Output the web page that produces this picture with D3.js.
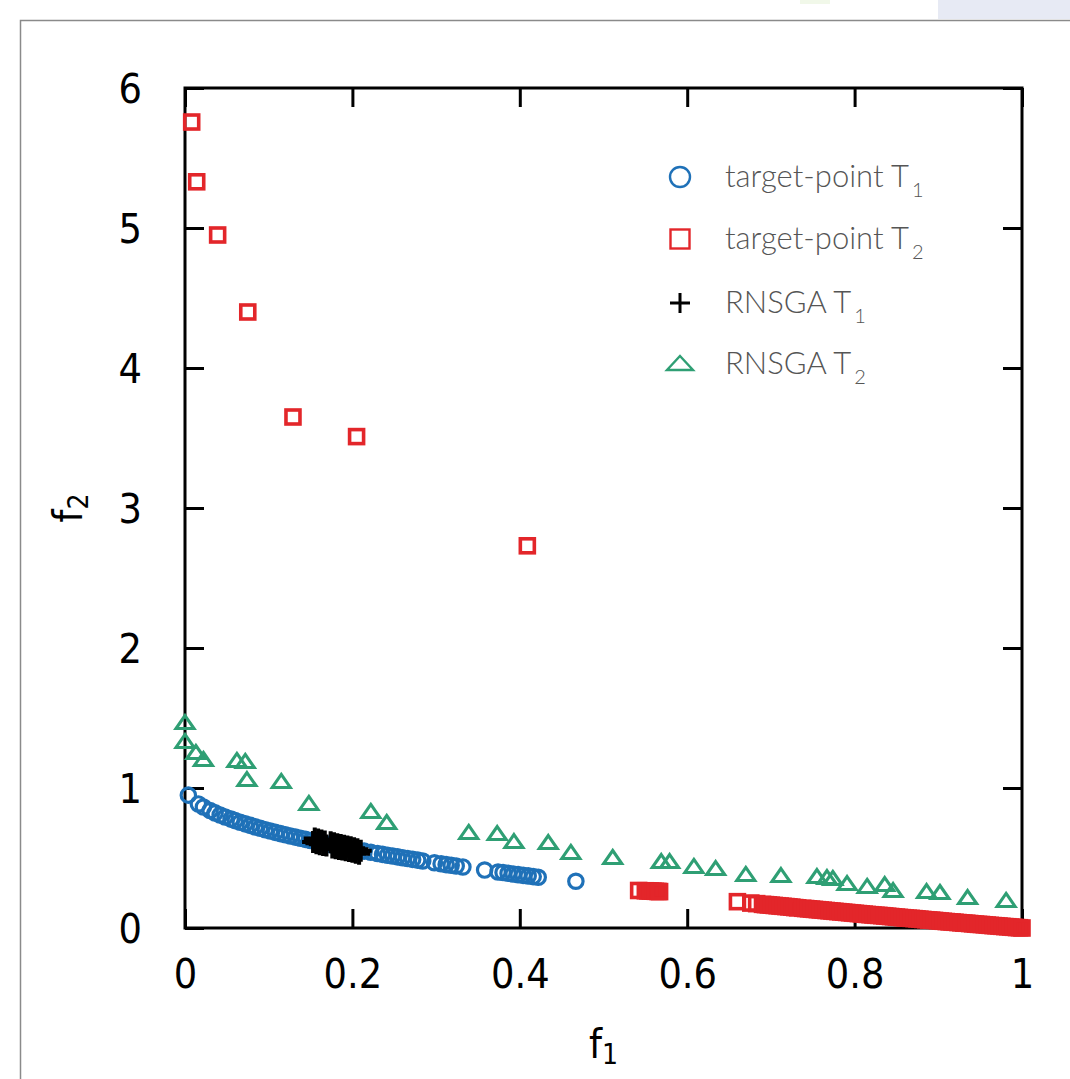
<!DOCTYPE html>
<html><head><meta charset="utf-8">
<script src="https://cdn.jsdelivr.net/npm/d3@7"></script>
<style>
html,body{margin:0;padding:0;background:#fff;}
svg{display:block;}
.legend-font{font-family:Lato,"Open Sans",sans-serif;font-weight:300;}
</style>
</head><body>
<svg id="chart" width="1070" height="1079"></svg>
<script>
// ---------------- data ----------------
const xTickValues = [0, 0.2, 0.4, 0.6, 0.8, 1];
const xTickLabels = ["0", "0.2", "0.4", "0.6", "0.8", "1"];
const yTickValues = [0, 1, 2, 3, 4, 5, 6];
const yTickLabels = ["0", "1", "2", "3", "4", "5", "6"];

const seriesNames = ["target-point T1", "target-point T2", "RNSGA T1", "RNSGA T2"];

// target-point T1 (blue circles)
const targetPointT1 = [
 [0.004,0.949],[0.016,0.886],[0.022,0.864],[0.030,0.839],[0.036,0.822],[0.042,0.807],[0.048,0.793],
 [0.055,0.778],[0.060,0.767],[0.066,0.755],[0.072,0.744],[0.078,0.733],[0.084,0.722],[0.090,0.712],
 [0.096,0.702],[0.102,0.693],[0.108,0.683],[0.114,0.674],[0.120,0.666],[0.126,0.657],[0.132,0.649],
 [0.138,0.641],[0.144,0.633],[0.150,0.625],[0.156,0.617],[0.162,0.610],[0.168,0.602],[0.175,0.594],
 [0.182,0.585],[0.190,0.576],[0.198,0.567],[0.206,0.558],[0.214,0.549],[0.222,0.541],[0.230,0.532],
 [0.236,0.526],[0.242,0.520],[0.248,0.514],[0.254,0.508],[0.260,0.502],[0.266,0.496],[0.272,0.490],
 [0.278,0.485],[0.284,0.479],[0.298,0.466],[0.306,0.459],[0.312,0.453],[0.318,0.448],[0.324,0.443],
 [0.332,0.436],[0.358,0.414],[0.374,0.400],[0.380,0.396],[0.386,0.391],[0.392,0.386],[0.398,0.381],
 [0.404,0.376],[0.410,0.372],[0.416,0.367],[0.422,0.362],[0.467,0.334]
];

// target-point T2 (red squares)
const targetPointT2 = [
 [0.008,5.757],[0.014,5.33],[0.039,4.95],[0.075,4.40],[0.129,3.65],[0.205,3.51],[0.409,2.73],
 [0.542,0.268],[0.550,0.266],[0.553,0.265],[0.556,0.264],[0.559,0.263],[0.562,0.262],[0.565,0.261],[0.567,0.260],
 [0.660,0.188],[0.676,0.178],[0.683,0.174],[0.690,0.169],[0.6935,0.167],[0.697,0.165],[0.7005,0.163],
 [0.704,0.161],[0.7075,0.159],[0.711,0.157],[0.7145,0.155],[0.718,0.153],[0.7215,0.151],[0.725,0.149],
 [0.7285,0.146],[0.732,0.144],[0.738,0.141],[0.7415,0.139],[0.745,0.137],[0.7485,0.135],[0.752,0.133],
 [0.7555,0.131],[0.759,0.129],[0.7625,0.127],[0.766,0.125],[0.7695,0.123],[0.773,0.121],[0.7765,0.119],
 [0.780,0.117],[0.7835,0.115],[0.787,0.113],[0.7905,0.111],[0.794,0.109],[0.7975,0.107],[0.801,0.105],
 [0.8045,0.103],[0.808,0.101],[0.8115,0.099],[0.815,0.097],[0.8185,0.095],[0.822,0.093],[0.8255,0.091],
 [0.829,0.090],[0.8325,0.088],[0.836,0.086],[0.8395,0.084],[0.843,0.082],[0.8465,0.080],[0.850,0.078],
 [0.8535,0.076],[0.857,0.074],[0.8605,0.072],[0.864,0.070],[0.8675,0.069],[0.871,0.067],[0.8745,0.065],
 [0.878,0.063],[0.8815,0.061],[0.885,0.059],[0.8885,0.057],[0.892,0.056],[0.8955,0.054],[0.899,0.052],
 [0.9025,0.050],[0.906,0.048],[0.9095,0.046],[0.913,0.044],[0.9165,0.043],[0.920,0.041],[0.9235,0.039],
 [0.927,0.037],[0.9305,0.035],[0.934,0.034],[0.9375,0.032],[0.941,0.030],[0.9445,0.028],[0.948,0.026],
 [0.9515,0.025],[0.955,0.023],[0.9585,0.021],[0.962,0.019],[0.9655,0.017],[0.969,0.016],[0.9725,0.014],
 [0.976,0.012],[0.9795,0.010],[0.983,0.009],[0.9865,0.007],[0.990,0.005],[0.9935,0.003],[0.997,0.002],[1.000,0.000]
];

// RNSGA T1 (black crosses)
const rnsgaT1 = [
 [0.153,0.615],[0.155,0.640],[0.157,0.605],[0.159,0.632],[0.161,0.598],[0.163,0.625],[0.165,0.592],[0.167,0.618],[0.169,0.590],
 [0.174,0.612],[0.176,0.575],[0.178,0.605],[0.180,0.570],[0.182,0.598],[0.184,0.565],[0.186,0.592],[0.188,0.560],[0.190,0.588],
 [0.192,0.555],[0.194,0.582],[0.196,0.550],[0.198,0.576],[0.200,0.545],[0.202,0.570],[0.204,0.538],[0.206,0.562],[0.208,0.530],[0.210,0.552]
];

// RNSGA T2 (green triangles)
const rnsgaT2 = [
 [0.000,1.464],[0.000,1.329],[0.013,1.250],[0.022,1.200],[0.062,1.193],[0.072,1.186],[0.074,1.057],
 [0.115,1.043],[0.148,0.886],[0.222,0.829],[0.241,0.750],[0.339,0.679],[0.373,0.671],[0.393,0.614],
 [0.434,0.607],[0.461,0.536],[0.511,0.500],[0.569,0.471],[0.579,0.471],[0.608,0.436],[0.634,0.421],
 [0.670,0.379],[0.712,0.371],[0.755,0.364],[0.767,0.357],[0.774,0.350],[0.791,0.314],[0.815,0.293],
 [0.836,0.307],[0.846,0.264],[0.886,0.257],[0.902,0.250],[0.935,0.214],[0.981,0.193]
];

// ---------------- drawing ----------------
const svg = d3.select("#chart");
const W = 1070, H = 1079;
const m = {left:185, right:1022, top:88, bottom:928};

const x = d3.scaleLinear().domain([0,1]).range([m.left, m.right]);
const y = d3.scaleLinear().domain([0,6]).range([m.bottom, m.top]);

const colBlue = "#1f71b8", colRed = "#e3262a", colGreen = "#2f9f74", colBlack = "#000";
const tickFont = '"Liberation Sans Narrow","DejaVu Sans Condensed","Liberation Sans",sans-serif';

// page decorations (screenshot border)
svg.append("rect").attr("x",0).attr("y",0).attr("width",W).attr("height",H).attr("fill","#fff");
svg.append("rect").attr("x",938).attr("y",0).attr("width",132).attr("height",19).attr("fill","#e7eaf4");
svg.append("rect").attr("x",800).attr("y",0).attr("width",30).attr("height",4).attr("fill","#f1f8e9");
svg.append("path").attr("d",`M20.5,${H} V20.5 H${W}`).attr("fill","none").attr("stroke","#8a8a8a").attr("stroke-width",1.5);

// axes with inward ticks
const tickLen = 19;
const gx = svg.append("g");
const xAxisB = d3.axisBottom(x).tickValues(xTickValues).tickFormat((d,i)=>xTickLabels[i]).tickSizeInner(-tickLen).tickSizeOuter(0).tickPadding(tickLen+12);
const xAxisT = d3.axisTop(x).tickValues(xTickValues).tickFormat("").tickSizeInner(-tickLen).tickSizeOuter(0);
const yAxisL = d3.axisLeft(y).tickValues(yTickValues).tickFormat((d,i)=>yTickLabels[i]).tickSizeInner(-tickLen).tickSizeOuter(0).tickPadding(tickLen+24);
const yAxisR = d3.axisRight(y).tickValues(yTickValues).tickFormat("").tickSizeInner(-tickLen).tickSizeOuter(0);

function styleAxis(g){
  g.select(".domain").remove();
  g.selectAll(".tick line").attr("stroke","#000").attr("stroke-width",3);
  g.selectAll(".tick text").attr("fill","#000").style("font-size","41px").style("font-family",tickFont);
}
gx.append("g").attr("transform",`translate(0,${m.bottom})`).call(xAxisB).call(styleAxis)
  .selectAll(".tick text").attr("dy","0.71em");
gx.append("g").attr("transform",`translate(0,${m.top})`).call(xAxisT).call(styleAxis);
gx.append("g").attr("transform",`translate(${m.left},0)`).call(yAxisL).call(styleAxis)
  .selectAll(".tick text").attr("dy","0.36em");
gx.append("g").attr("transform",`translate(${m.right},0)`).call(yAxisR).call(styleAxis);

// frame
svg.append("rect").attr("x",m.left).attr("y",m.top).attr("width",m.right-m.left).attr("height",m.bottom-m.top)
  .attr("fill","none").attr("stroke","#000").attr("stroke-width",3);

// axis titles
const xt = svg.append("text").attr("x",(m.left+m.right)/2).attr("y",1058).attr("text-anchor","middle")
  .style("font-family",tickFont).style("font-size","41px").attr("fill","#000");
xt.append("tspan").text("f");
xt.append("tspan").text("1").style("font-size","28px").attr("dy","6");
const yt = svg.append("text").attr("transform",`translate(82,${(m.top+m.bottom)/2}) rotate(-90)`).attr("text-anchor","middle")
  .style("font-family",tickFont).style("font-size","41px").attr("fill","#000");
yt.append("tspan").text("f");
yt.append("tspan").text("2").style("font-size","28px").attr("dy","6");

// markers
const gPts = svg.append("g");
gPts.selectAll("circle.t1").data(targetPointT1).join("circle").attr("class","t1")
  .attr("cx",d=>x(d[0])).attr("cy",d=>y(d[1])).attr("r",7.2)
  .attr("fill","none").attr("stroke",colBlue).attr("stroke-width",3.2);

const sq = 14;
gPts.selectAll("rect.t2").data(targetPointT2).join("rect").attr("class","t2")
  .attr("x",d=>x(d[0])-sq/2).attr("y",d=>y(d[1])-sq/2).attr("width",sq).attr("height",sq)
  .attr("fill","none").attr("stroke",colRed).attr("stroke-width",3.6);

const crossPath = "M-11,0H11M0,-11V11";
gPts.selectAll("path.r1").data(rnsgaT1).join("path").attr("class","r1")
  .attr("d",crossPath).attr("transform",d=>`translate(${x(d[0])},${y(d[1])})`)
  .attr("fill","none").attr("stroke",colBlack).attr("stroke-width",4);

const triPath = "M0,-7.5L9,5.5L-9,5.5Z";
gPts.selectAll("path.r2").data(rnsgaT2).join("path").attr("class","r2")
  .attr("d",triPath).attr("transform",d=>`translate(${x(d[0])},${y(d[1])})`)
  .attr("fill","none").attr("stroke",colGreen).attr("stroke-width",3.1).attr("stroke-linejoin","miter");

// legend
const legend = svg.append("g");
const legendRows = [
  {name:"target-point T", sub:"1", type:"circle", color:colBlue, y:177},
  {name:"target-point T", sub:"2", type:"square", color:colRed, y:239},
  {name:"RNSGA T", sub:"1", type:"cross", color:colBlack, y:303},
  {name:"RNSGA T", sub:"2", type:"tri", color:colGreen, y:364}
];
legendRows.forEach(r=>{
  const g = legend.append("g").attr("transform",`translate(680,${r.y})`);
  if(r.type==="circle") g.append("circle").attr("r",10).attr("fill","none").attr("stroke",r.color).attr("stroke-width",2.4);
  if(r.type==="square") g.append("rect").attr("x",-9.5).attr("y",-9.5).attr("width",19).attr("height",19).attr("fill","none").attr("stroke",r.color).attr("stroke-width",2.4);
  if(r.type==="cross") g.append("path").attr("d","M-10,0H10M0,-10V10").attr("stroke",r.color).attr("stroke-width",3);
  if(r.type==="tri") g.append("path").attr("d","M0,-8L13,6L-13,6Z").attr("fill","none").attr("stroke",r.color).attr("stroke-width",2.4);
  const t = g.append("text").attr("x",45).attr("y",10).attr("class","legend-font")
    .style("font-size","31px").attr("fill","#555");
  t.append("tspan").text(r.name);
  t.append("tspan").text(r.sub).style("font-size","20px").attr("dy","10").attr("dx","3");
});
</script>
</body></html>
